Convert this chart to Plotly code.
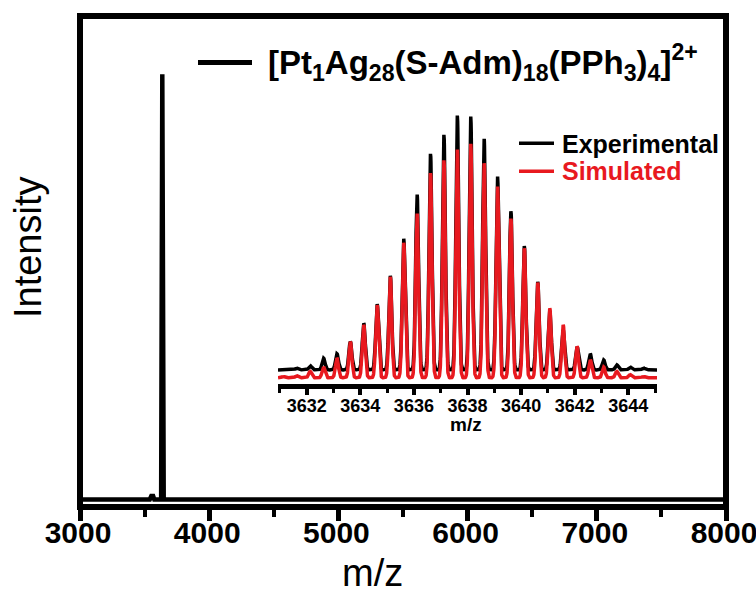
import numpy as np
import plotly.graph_objects as go

# ---------------- data ----------------
# main spectrum (m/z, normalised intensity)
main_mz = [3000, 3540, 3552, 3566, 3575, 3628, 3637, 3641, 3648, 8000]
main_int = [0, 0, 0.008, 0.008, 0, 0, 1.0, 0.63, 0, 0]

# inset isotope pattern: peak centres (m/z) and relative intensities (%)
iso_mz = [3631.13, 3631.63, 3632.13, 3632.63, 3633.13, 3633.63, 3634.13,
          3634.63, 3635.12, 3635.62, 3636.12, 3636.62, 3637.12, 3637.62,
          3638.12, 3638.62, 3639.12, 3639.62, 3640.12, 3640.62, 3641.07,
          3641.57, 3642.09, 3642.58, 3643.08, 3643.57, 3644.07, 3644.57]
exp_int = [0.3, 0.7, 1.6, 4.6, 6.3, 11.1, 18.3, 25.9, 37.0, 51.6, 69.0,
           85.0, 92.4, 100.0, 99.6, 90.9, 76.1, 62.4, 48.7, 34.6, 23.1,
           15.7, 9.1, 6.3, 3.9, 2.0, 1.1, 0.7]
sim_int = [0.5, 0.8, 2.5, 4.2, 7.7, 14.2, 20.8, 28.6, 39.7, 53.1, 64.6,
           80.5, 85.5, 89.7, 92.0, 84.4, 75.3, 62.6, 50.9, 37.4, 27.3,
           20.8, 12.3, 7.1, 4.2, 2.5, 1.2, 0.5]
exp_offset = 3.1  # vertical stacking offset of experimental trace

main_ticks = [3000, 4000, 5000, 6000, 7000, 8000]
inset_ticks = [3632, 3634, 3636, 3638, 3640, 3642, 3644]

RED = "#E8191F"
FONT = "Liberation Sans, Arial, sans-serif"

# peak profile rendering of the stick data
grid = np.linspace(3630.93, 3645.07, 2400)
sigma = 0.055


def profile(centres, heights, offset=0.0):
    y = np.zeros_like(grid) + offset
    for c, h in zip(centres, heights):
        y += h * np.exp(-((grid - c) ** 2) / (2 * sigma ** 2))
    return y


exp_y = profile(iso_mz, exp_int, exp_offset)
sim_y = profile(iso_mz, sim_int)

fig = go.Figure()
fig.add_trace(go.Scatter(x=main_mz, y=main_int, mode="lines",
                         line=dict(color="black", width=4.5),
                         name="[Pt1Ag28(S-Adm)18(PPh3)4]2+", showlegend=False))
fig.add_trace(go.Scatter(x=grid, y=exp_y, mode="lines", xaxis="x2", yaxis="y2",
                         line=dict(color="black", width=3.5),
                         name="Experimental", showlegend=False))
fig.add_trace(go.Scatter(x=grid, y=sim_y, mode="lines", xaxis="x2", yaxis="y2",
                         line=dict(color=RED, width=3.5),
                         name="Simulated", showlegend=False))

L, R, T, B = 80, 30, 15.5, 87.5
W, H = 756, 595
pw, ph = W - L - R, H - T - B


def px(x):
    return (x - L) / pw


def py(y):
    return (H - B - y) / ph


fig.update_layout(
    width=W, height=H,
    margin=dict(l=L, r=R, t=T, b=B, pad=0, autoexpand=False),
    paper_bgcolor="white", plot_bgcolor="white",
    font=dict(family=FONT, color="black"),
    showlegend=False,
    xaxis=dict(range=[3000, 8000], domain=[0, 1], showgrid=False, zeroline=False,
               automargin=False, ticklabeloverflow="allow",
               showline=False, ticks="outside", ticklen=13, tickwidth=5,
               tickcolor="black", tickvals=main_ticks,
               ticklabelstandoff=-14, ticklabelshift=-2,
               tickfont=dict(size=30, family=FONT, weight="bold"),
               minor=dict(ticks="outside", ticklen=9, tickwidth=4, dtick=500,
                          tick0=3000, tickcolor="black", showgrid=False)),
    yaxis=dict(range=[-0.0176, 1.137], domain=[0, 1], showgrid=False, zeroline=False,
               automargin=False,
               showline=False, ticks="", showticklabels=False),
    xaxis2=dict(range=[3630.93, 3645.07], domain=[px(278), px(657)], anchor="y2",
                automargin=False,
                showgrid=False, zeroline=False, showline=True, linewidth=5,
                linecolor="black", ticks="outside", ticklen=6, tickwidth=3.5,
                tickcolor="black", tickvals=inset_ticks, ticklabelstandoff=-5,
                tickfont=dict(size=18, family=FONT, weight="bold"),
                minor=dict(ticks="outside", ticklen=3.5, tickwidth=3, dtick=1,
                           tick0=3631, tickcolor="black", showgrid=False)),
    yaxis2=dict(range=[-2.55, 107.1], domain=[py(384.5), py(105)], anchor="x2",
                visible=False),
)

# frame
fig.add_shape(type="rect", xref="paper", yref="paper", x0=0, x1=1, y0=0, y1=1,
              line=dict(color="black", width=6), layer="above")

# axis titles
fig.add_annotation(xref="paper", yref="paper", x=px(372), y=py(574),
                   xanchor="center", yanchor="middle", showarrow=False,
                   text="m/z", font=dict(size=38, family=FONT, color="black"))
fig.add_annotation(xref="paper", yref="paper", x=px(28), y=py(247),
                   xanchor="center", yanchor="middle", showarrow=False,
                   textangle=-90,
                   text="Intensity", font=dict(size=38, family=FONT, color="black"))
fig.add_annotation(xref="paper", yref="paper", x=px(466), y=py(425),
                   xanchor="center", yanchor="middle", showarrow=False,
                   text="<b>m/z</b>", font=dict(size=19, family=FONT, color="black"))

# main legend
fig.add_shape(type="line", xref="paper", yref="paper", x0=px(198), x1=px(252),
              y0=py(62), y1=py(62), line=dict(color="black", width=5))
fig.add_annotation(xref="paper", yref="paper", x=px(266), y=py(62),
                   xanchor="left", yanchor="middle", showarrow=False,
                   text="<b>[Pt<sub>1</sub>Ag<sub>28</sub>(S-Adm)<sub>18</sub>"
                        "(PPh<sub>3</sub>)<sub>4</sub>]<sup>2+</sup></b>",
                   font=dict(size=33, family=FONT, color="black"))

# inset legend
fig.add_shape(type="line", xref="paper", yref="paper", x0=px(519), x1=px(554),
              y0=py(143), y1=py(143), line=dict(color="black", width=3.5))
fig.add_shape(type="line", xref="paper", yref="paper", x0=px(519), x1=px(554),
              y0=py(171), y1=py(171), line=dict(color=RED, width=3.5))
fig.add_annotation(xref="paper", yref="paper", x=px(560), y=py(144),
                   xanchor="left", yanchor="middle", showarrow=False,
                   text="<b>Experimental</b>",
                   font=dict(size=25, family=FONT, color="black"))
fig.add_annotation(xref="paper", yref="paper", x=px(560), y=py(171),
                   xanchor="left", yanchor="middle", showarrow=False,
                   text="<b>Simulated</b>",
                   font=dict(size=25, family=FONT, color=RED))

fig.write_html("out.html")
